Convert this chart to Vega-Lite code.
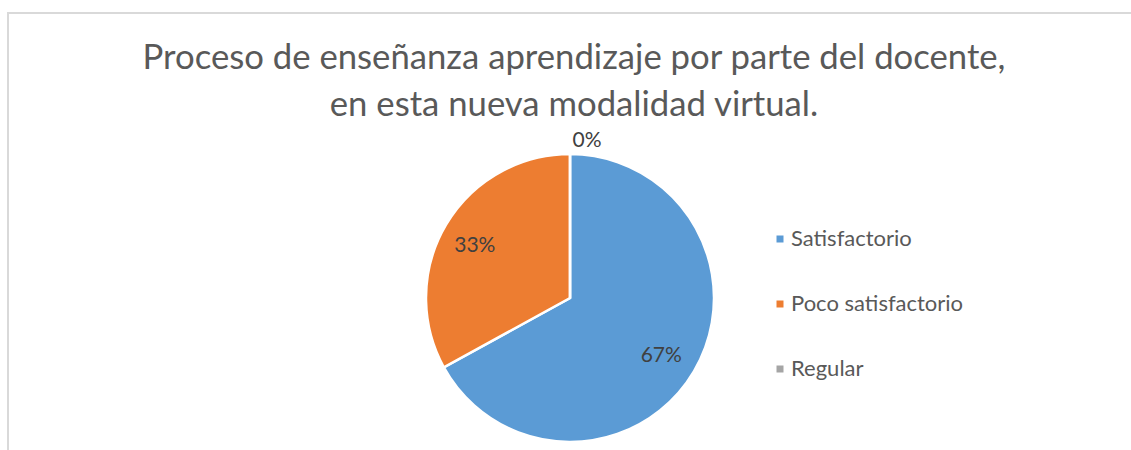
{
  "$schema": "https://vega.github.io/schema/vega-lite/v6.json",
  "width": 1124,
  "height": 570,
  "autosize": "none",
  "padding": {"left": 8, "top": 13, "right": 0, "bottom": 0},
  "config": {
    "view": {"stroke": null},
    "font": "Lato"
  },
  "title": {
    "text": ["Proceso de enseñanza aprendizaje por parte del docente,", "en esta nueva modalidad virtual."],
    "orient": "top",
    "anchor": "middle",
    "frame": "group",
    "offset": -112,
    "dx": 4,
    "fontSize": 34.7,
    "fontWeight": "normal",
    "color": "#595959",
    "lineHeight": 47
  },
  "data": {
    "values": [
      {"categoria": "Satisfactorio", "valor": 0.67, "orden": 1},
      {"categoria": "Poco satisfactorio", "valor": 0.33, "orden": 2},
      {"categoria": "Regular", "valor": 0.0, "orden": 3}
    ]
  },
  "layer": [
    {
      "data": {"values": [{"marco": 1}]},
      "mark": {"type": "rect", "fill": null, "stroke": "#d9d9d9", "strokeWidth": 2},
      "encoding": {}
    },
    {
      "mark": {"type": "arc", "outerRadius": 144, "stroke": "white", "strokeWidth": 2.5},
      "encoding": {
        "theta": {"field": "valor", "type": "quantitative", "stack": true},
        "order": {"field": "orden", "type": "quantitative"},
        "color": {
          "field": "categoria",
          "type": "nominal",
          "sort": ["Satisfactorio", "Poco satisfactorio", "Regular"],
          "scale": {"domain": ["Satisfactorio", "Poco satisfactorio", "Regular"], "range": ["#5b9bd5", "#ed7d31", "#a5a5a5"]},
          "legend": {
            "title": null,
            "orient": "none",
            "legendX": 761,
            "legendY": 215,
            "symbolType": "square",
            "symbolSize": 49,
            "symbolStrokeWidth": 0,
            "labelFontSize": 22,
            "labelColor": "#595959",
            "labelOffset": 0,
            "labelLimit": 0,
            "rowPadding": 43,
            "labelFont": "Lato"
          }
        }
      }
    },
    {
      "mark": {"type": "text", "radius": 106, "dy": 4, "fontSize": 21, "color": "#404040"},
      "encoding": {
        "theta": {"field": "valor", "type": "quantitative", "stack": true},
        "order": {"field": "orden", "type": "quantitative"},
        "text": {"condition": {"test": "datum.categoria === 'Satisfactorio'", "field": "valor", "format": ".0%"}, "value": ""}
      }
    },
    {
      "mark": {"type": "text", "radius": 128, "dx": 15, "dy": 13, "fontSize": 21, "color": "#404040"},
      "encoding": {
        "theta": {"field": "valor", "type": "quantitative", "stack": true},
        "order": {"field": "orden", "type": "quantitative"},
        "text": {"condition": {"test": "datum.categoria === 'Poco satisfactorio'", "field": "valor", "format": ".0%"}, "value": ""}
      }
    },
    {
      "mark": {"type": "text", "radius": 157, "dx": 17, "fontSize": 21, "color": "#404040"},
      "encoding": {
        "theta": {"field": "valor", "type": "quantitative", "stack": true},
        "order": {"field": "orden", "type": "quantitative"},
        "text": {"condition": {"test": "datum.categoria === 'Regular'", "field": "valor", "format": ".0%"}, "value": ""}
      }
    }
  ]
}
